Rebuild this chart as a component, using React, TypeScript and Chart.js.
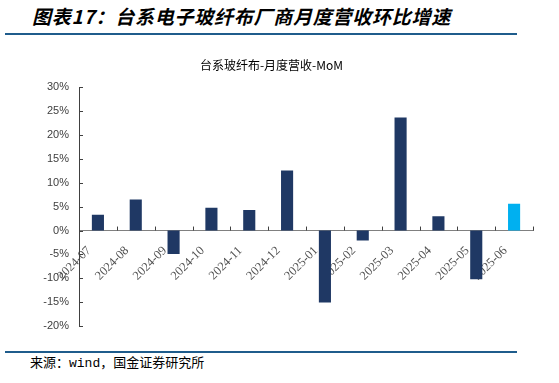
import { useEffect, useRef } from "react";
import { Chart, registerables } from "chart.js";

Chart.register(...registerables);

const categories = [
  "2024-07", "2024-08", "2024-09", "2024-10", "2024-11", "2024-12",
  "2025-01", "2025-02", "2025-03", "2025-04", "2025-05", "2025-06",
];
const momValues = [3.3, 6.5, -4.9, 4.8, 4.3, 12.6, -15.1, -2.1, 23.7, 3.0, -10.2, 5.6];
const yMin = -20;
const yMax = 30;
const yStep = 5;

const pageTitle = "图表17：台系电子玻纤布厂商月度营收环比增速";
const chartTitle = "台系玻纤布-月度营收-MoM";
const sourceText = "来源：wind，国金证券研究所";

const NAVY = "#1f3864";
const CYAN = "#00b0f0";

const innerTicks = {
  id: "innerTicks",
  afterDatasetsDraw(chart: any) {
    const { ctx } = chart;
    const x = chart.scales.x;
    const y = chart.scales.y;
    const y0 = y.getPixelForValue(0);
    ctx.save();
    ctx.strokeStyle = "#404040";
    ctx.lineWidth = 1;
    ctx.beginPath();
    for (let i = 0; i <= categories.length; i++) {
      const px = Math.round(x.getPixelForValue(i - 0.5)) + 0.5;
      ctx.moveTo(px, y0 - 4);
      ctx.lineTo(px, y0);
    }
    for (let v = yMin; v <= yMax; v += yStep) {
      const py = Math.round(y.getPixelForValue(v)) + 0.5;
      ctx.moveTo(x.left, py);
      ctx.lineTo(x.left + 4, py);
    }
    ctx.stroke();
    ctx.restore();
  },
};

export default function App() {
  const ref = useRef<HTMLCanvasElement | null>(null);

  useEffect(() => {
    if (!ref.current) return;
    const chart = new Chart(ref.current, {
      type: "bar",
      data: {
        labels: categories,
        datasets: [
          {
            data: momValues,
            backgroundColor: categories.map((_, i) => (i === categories.length - 1 ? CYAN : NAVY)),
            barPercentage: 0.32,
            categoryPercentage: 1,
          },
        ],
      },
      options: {
        animation: false,
        responsive: false,
        maintainAspectRatio: false,
        devicePixelRatio: 1,
        layout: { padding: { left: 0, right: 19, top: 0, bottom: 19 } },
        plugins: {
          legend: { display: false },
          tooltip: { enabled: false },
          title: {
            display: true,
            text: chartTitle,
            color: "#000000",
            font: { family: "'Noto Sans CJK SC'", size: 12, weight: "normal" },
            padding: { top: 18, bottom: 15 },
          },
        },
        scales: {
          x: {
            position: { y: 0 } as any,
            grid: { display: false, drawOnChartArea: false, drawTicks: false, offset: true },
            border: { display: true, color: "#808080", width: 1 },
            ticks: {
              autoSkip: false,
              maxRotation: 45,
              minRotation: 45,
              padding: 4,
              color: "#505050",
              font: { family: "'Liberation Serif'", size: 12.5 },
              callback: (_v: any, i: number) => categories[i] + "    ",
            },
          },
          y: {
            min: yMin,
            max: yMax,
            afterFit: (scale: any) => {
              scale.width = 69;
            },
            grid: { display: false, drawTicks: false },
            border: { display: true, color: "#404040", width: 1 },
            ticks: {
              stepSize: yStep,
              padding: 10,
              color: "#404040",
              font: { family: "'Liberation Sans'", size: 11 },
              callback: (v: any) => `${v}%`,
            },
          },
        },
      },
      plugins: [innerTicks],
    });
    return () => chart.destroy();
  }, []);

  return (
    <div
      style={{
        position: "absolute",
        left: 0,
        top: 0,
        width: 559,
        height: 383,
        background: "#ffffff",
        overflow: "hidden",
      }}
    >
      <div
        style={{
          position: "absolute",
          left: 32,
          top: 3,
          fontFamily: "'Noto Sans CJK SC'",
          fontSize: 19,
          fontWeight: "bold",
          fontStyle: "italic",
          lineHeight: "26px",
          letterSpacing: 0.75,
          color: "#000000",
          whiteSpace: "nowrap",
        }}
      >
        {pageTitle}
      </div>
      <div style={{ position: "absolute", left: 5, top: 33, width: 512, height: 2, background: "#1f5c8c" }} />
      <canvas
        ref={ref}
        width={542}
        height={305}
        style={{ position: "absolute", left: 10, top: 40, width: 542, height: 305 }}
      />
      <div style={{ position: "absolute", left: 5, top: 351, width: 512, height: 2, background: "#1f5c8c" }} />
      <div
        style={{
          position: "absolute",
          left: 30,
          top: 356,
          fontFamily: "'Liberation Mono', 'Noto Sans CJK SC'",
          fontSize: 13,
          lineHeight: "16px",
          color: "#000000",
          whiteSpace: "nowrap",
        }}
      >
        {sourceText}
      </div>
    </div>
  );
}
